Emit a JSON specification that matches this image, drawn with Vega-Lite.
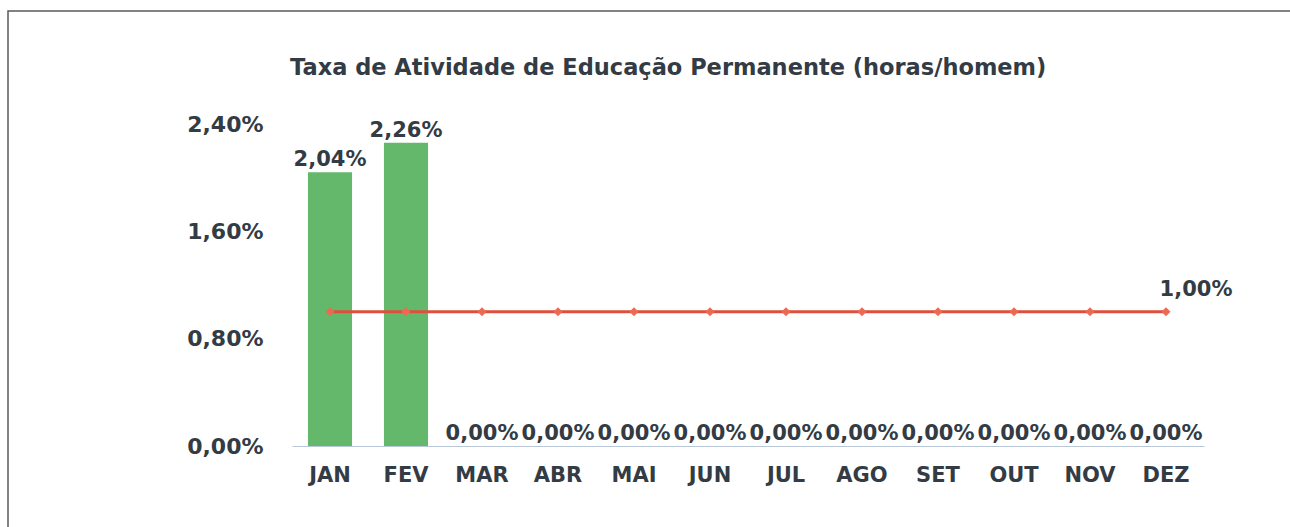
{
  "$schema": "https://vega.github.io/schema/vega-lite/v6.json",
  "autosize": "none",
  "width": 1284,
  "height": 518,
  "padding": {"left": 8, "top": 11, "right": 0, "bottom": 0},
  "background": "white",
  "config": {
    "locale": {"number": {"decimal": ",", "thousands": ".", "grouping": [3], "currency": ["R$", ""]}},
    "view": {"stroke": "#5a5a5a", "strokeWidth": 1.5},
    "font": "DejaVu Sans"
  },
  "title": {
    "text": "Taxa de Atividade de Educação Permanente (horas/homem)",
    "anchor": "start",
    "frame": "group",
    "orient": "top",
    "dx": 282,
    "offset": -68,
    "font": "DejaVu Sans",
    "fontSize": 22.5,
    "fontWeight": "bold",
    "color": "#333b44"
  },
  "data": {
    "values": [
      {"mes": "JAN", "taxa": 0.0204, "meta": 0.01},
      {"mes": "FEV", "taxa": 0.0226, "meta": 0.01},
      {"mes": "MAR", "taxa": 0, "meta": 0.01},
      {"mes": "ABR", "taxa": 0, "meta": 0.01},
      {"mes": "MAI", "taxa": 0, "meta": 0.01},
      {"mes": "JUN", "taxa": 0, "meta": 0.01},
      {"mes": "JUL", "taxa": 0, "meta": 0.01},
      {"mes": "AGO", "taxa": 0, "meta": 0.01},
      {"mes": "SET", "taxa": 0, "meta": 0.01},
      {"mes": "OUT", "taxa": 0, "meta": 0.01},
      {"mes": "NOV", "taxa": 0, "meta": 0.01},
      {"mes": "DEZ", "taxa": 0, "meta": 0.01}
    ]
  },
  "encoding": {
    "x": {
      "field": "mes",
      "type": "nominal",
      "sort": null,
      "scale": {"range": [284, 1196], "paddingInner": 0.42, "paddingOuter": 0.21},
      "axis": {
        "title": null,
        "labelAngle": 0,
        "ticks": false,
        "offset": -83,
        "labelPadding": 18,
        "labelFont": "DejaVu Sans",
        "labelFontSize": 21,
        "labelFontWeight": "bold",
        "labelColor": "#333b44",
        "domainColor": "#b8c8d8",
        "domainWidth": 1
      }
    }
  },
  "layer": [
    {
      "mark": {"type": "bar", "color": "#63b86b"},
      "encoding": {
        "y": {
          "field": "taxa",
          "type": "quantitative",
          "scale": {"domain": [0, 0.024], "range": [435, 113], "nice": false},
          "axis": {
            "title": null,
            "values": [0, 0.008, 0.016, 0.024],
            "format": ".2%",
            "grid": false,
            "domain": false,
            "ticks": false,
            "offset": -260,
            "labelPadding": 5,
            "labelFont": "DejaVu Sans",
            "labelFontSize": 22,
            "labelFontWeight": "bold",
            "labelColor": "#333b44"
          }
        }
      }
    },
    {
      "mark": {"type": "line", "color": "#de4f3c", "strokeWidth": 3},
      "encoding": {"y": {"field": "meta", "type": "quantitative"}}
    },
    {
      "mark": {"type": "point", "shape": "diamond", "filled": true, "size": 80, "color": "#ec6a52", "opacity": 1},
      "encoding": {"y": {"field": "meta", "type": "quantitative"}}
    },
    {
      "mark": {"type": "text", "baseline": "alphabetic", "dy": -6, "font": "DejaVu Sans", "fontSize": 21, "fontWeight": "bold", "color": "#333b44"},
      "encoding": {
        "y": {"field": "taxa", "type": "quantitative"},
        "text": {"field": "taxa", "type": "quantitative", "format": ".2%"}
      }
    },
    {
      "transform": [{"filter": "datum.mes === 'DEZ'"}],
      "mark": {"type": "text", "baseline": "alphabetic", "dx": 30, "dy": -16, "font": "DejaVu Sans", "fontSize": 21, "fontWeight": "bold", "color": "#333b44"},
      "encoding": {
        "y": {"field": "meta", "type": "quantitative"},
        "text": {"field": "meta", "type": "quantitative", "format": ".2%"}
      }
    }
  ]
}
